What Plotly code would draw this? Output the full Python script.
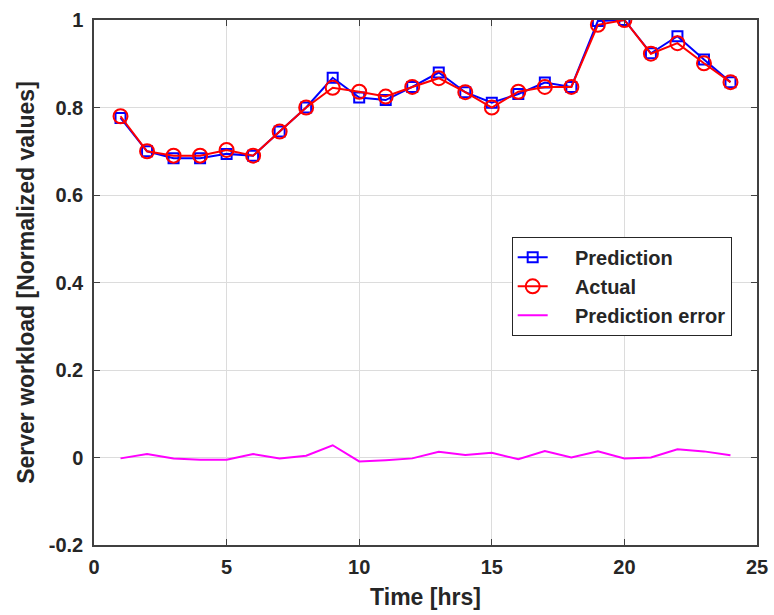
import plotly.graph_objects as go

hours = list(range(1, 25))
prediction = [0.776, 0.700, 0.684, 0.684, 0.694, 0.690, 0.745, 0.800, 0.868, 0.823,
              0.817, 0.847, 0.880, 0.835, 0.811, 0.831, 0.857, 0.847, 0.998, 1.000,
              0.924, 0.963, 0.910, 0.858]
actual = [0.780, 0.700, 0.690, 0.690, 0.703, 0.690, 0.745, 0.800, 0.845, 0.836,
          0.825, 0.847, 0.867, 0.835, 0.800, 0.836, 0.847, 0.847, 0.989, 1.000,
          0.923, 0.947, 0.901, 0.858]
pred_error = [-0.002, 0.008, -0.002, -0.005, -0.005, 0.008, -0.002, 0.004, 0.028, -0.009,
              -0.006, -0.002, 0.013, 0.006, 0.011, -0.004, 0.015, 0.000, 0.014, -0.002,
              0.000, 0.019, 0.014, 0.005]

x_ticks = [0, 5, 10, 15, 20, 25]
y_ticks = [-0.2, 0, 0.2, 0.4, 0.6, 0.8, 1]
y_tick_text = ["-0.2", "0", "0.2", "0.4", "0.6", "0.8", "1"]

font_family = "Liberation Sans, Arial, sans-serif"
text_color = "#262626"
pad = "\u00a0\u00a0\u00a0\u00a0"

fig = go.Figure()
fig.add_trace(go.Scatter(
    x=hours, y=prediction, name=pad + "<b>Prediction</b>", mode="lines+markers",
    line=dict(color="#0000FF", width=2),
    marker=dict(symbol="square-open", size=10, color="#0000FF", line=dict(width=2)),
))
fig.add_trace(go.Scatter(
    x=hours, y=actual, name=pad + "<b>Actual</b>", mode="lines+markers",
    line=dict(color="#FF0000", width=2),
    marker=dict(symbol="circle-open", size=14, color="#FF0000", line=dict(width=2)),
))
fig.add_trace(go.Scatter(
    x=hours, y=pred_error, name=pad + "<b>Prediction error</b>", mode="lines",
    line=dict(color="#FF00FF", width=2),
))

axis_common = dict(
    showgrid=True, gridcolor="#DCDCDC", gridwidth=1,
    showline=True, linecolor="#404040", linewidth=1.5, mirror="ticks",
    ticks="inside", ticklen=6, tickcolor="#404040", tickwidth=1.2,
    zeroline=False, automargin=False,
    tickfont=dict(family=font_family, size=20, color=text_color),
)

fig.update_layout(
    width=774, height=615,
    margin=dict(l=94, r=17, t=20, b=70),
    paper_bgcolor="white", plot_bgcolor="white",
    font=dict(family=font_family, color=text_color),
    showlegend=True,
    legend=dict(
        x=0.630, y=0.587, xanchor="left", yanchor="top",
        bgcolor="white", bordercolor=text_color, borderwidth=1,
        font=dict(family=font_family, size=20, color=text_color),
        tracegroupgap=0,
    ),
    xaxis=dict(
        range=[0, 25], tickvals=x_ticks, ticktext=["<b>%d</b>" % t for t in x_ticks],
        ticklabelstandoff=3,
        title=dict(text="<b>Time [hrs]</b>", font=dict(family=font_family, size=23, color=text_color), standoff=12),
        **axis_common,
    ),
    yaxis=dict(
        range=[-0.2, 1], tickvals=y_ticks, ticktext=["<b>%s</b>" % t for t in y_tick_text],
        ticklabelstandoff=5,
        title=dict(text="<b>Server workload [Normalized values]</b>", font=dict(family=font_family, size=23, color=text_color), standoff=8),
        **axis_common,
    ),
)

fig.write_html("out.html")
